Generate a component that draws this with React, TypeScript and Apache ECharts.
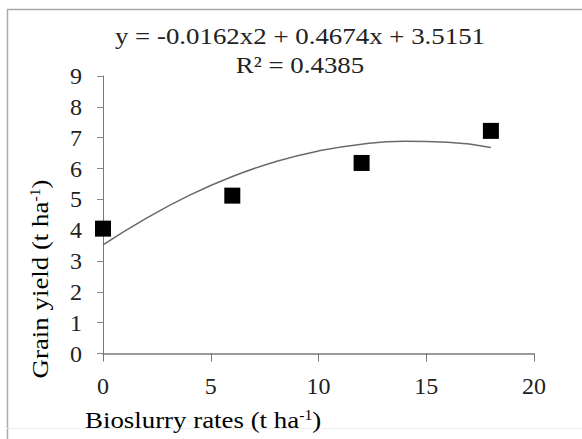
import React, { useEffect, useRef } from "react";
import * as echarts from "echarts";

const xTicks = [0, 5, 10, 15, 20];
const yTicks = [0, 1, 2, 3, 4, 5, 6, 7, 8, 9];
const pointX = [0, 6, 12, 18];
const pointY = [4.05, 5.12, 6.18, 7.22];
const trendX = [0, 2, 4, 6, 8, 10, 12, 14, 16, 18];
const trendY = [3.52, 4.38, 5.13, 5.74, 6.22, 6.57, 6.79, 6.88, 6.85, 6.68];
const equationText = "y = -0.0162x2 + 0.4674x + 3.5151";
const r2Text = "R² = 0.4385";
const xName = "Bioslurry rates (t ha";
const yName = "Grain yield (t ha";
const supText = "-1";

const FONT = "Liberation Serif";
const SX = 1.12;

export default function App() {
  const ref = useRef<HTMLDivElement>(null);
  useEffect(() => {
    if (!ref.current) return;
    const chart = echarts.init(ref.current, undefined, { renderer: "svg" });
    const rich = {
      n: { fontFamily: FONT, fontSize: 24, color: "#222" },
      s: { fontFamily: FONT, fontSize: 14, color: "#222", padding: [0, 0, 10, 0] },
    };
    chart.setOption({
      animation: false,
      backgroundColor: "#fff",
      textStyle: { fontFamily: FONT },
      grid: { left: 103, right: 48, top: 76, bottom: 85.5, containLabel: false },
      xAxis: {
        type: "value",
        min: xTicks[0],
        max: xTicks[xTicks.length - 1],
        interval: 5,
        axisLine: { show: true, lineStyle: { color: "#9a9a9a", width: 2 } },
        axisTick: { show: true, length: 8, lineStyle: { color: "#777", width: 1 } },
        axisLabel: {
          margin: 19,
          formatter: "{n|{value}}",
          rich: { n: { fontFamily: FONT, fontSize: 24, color: "#222", padding: [1, 0, 0, 0] } },
          color: "#222",
        },
        splitLine: { show: false },
      },
      yAxis: {
        type: "value",
        min: yTicks[0],
        max: yTicks[yTicks.length - 1],
        interval: 1,
        axisLine: { show: true, lineStyle: { color: "#777", width: 1 } },
        axisTick: { show: true, length: 6, lineStyle: { color: "#888", width: 1 } },
        axisLabel: { margin: 21, fontFamily: "Liberation Serif, serif", fontSize: 24, color: "#222" },
        splitLine: { show: false },
      },
      series: [
        {
          type: "line",
          data: trendX.map((x, i) => [x, trendY[i]]),
          smooth: true,
          showSymbol: false,
          symbol: "none",
          lineStyle: { color: "#6a6a6a", width: 1.5 },
          z: 2,
        },
        {
          type: "scatter",
          data: pointX.map((x, i) => [x, pointY[i]]),
          symbol: "rect",
          symbolSize: 16,
          itemStyle: { color: "#000", opacity: 1 },
          z: 3,
        },
      ],
      graphic: [
        { type: "line", shape: { x1: 7.5, y1: 9.5, x2: 7.5, y2: 439 }, style: { stroke: "#aaa", lineWidth: 1.5 } },
        { type: "line", shape: { x1: 7, y1: 9.5, x2: 582, y2: 9.5 }, style: { stroke: "#aaa", lineWidth: 1.5 } },
        { type: "line", shape: { x1: 7, y1: 428.5, x2: 582, y2: 428.5 }, style: { stroke: "#eee", lineWidth: 1 } },
        {
          type: "text",
          x: 300,
          y: 36,
          scaleX: SX,
          style: { text: equationText, fontFamily: "serif", fontSize: 24, fill: "#222", align: "center", verticalAlign: "middle" },
        },
        {
          type: "text",
          x: 300,
          y: 65,
          scaleX: SX,
          style: { text: r2Text, fontFamily: "Times New Roman", fontSize: 24, fill: "#222", align: "center", verticalAlign: "middle" },
        },
        {
          type: "text",
          x: 85,
          y: 420,
          scaleX: SX,
          style: {
            text: "{n|" + xName + "}{s|" + supText + "}{n|)}",
            rich,
            align: "left",
            verticalAlign: "middle",
          },
        },
        {
          type: "text",
          x: 40,
          y: 279,
          rotation: Math.PI / 2,
          scaleX: SX,
          style: {
            text: "{n|" + yName + "}{s|" + supText + "}{n|)}",
            rich,
            align: "center",
            verticalAlign: "middle",
          },
        },
      ],
    });
    return () => chart.dispose();
  }, []);
  return (
    <div
      ref={ref}
      style={{ position: "fixed", left: 0, top: 0, width: 582, height: 439, background: "#fff" }}
    />
  );
}
